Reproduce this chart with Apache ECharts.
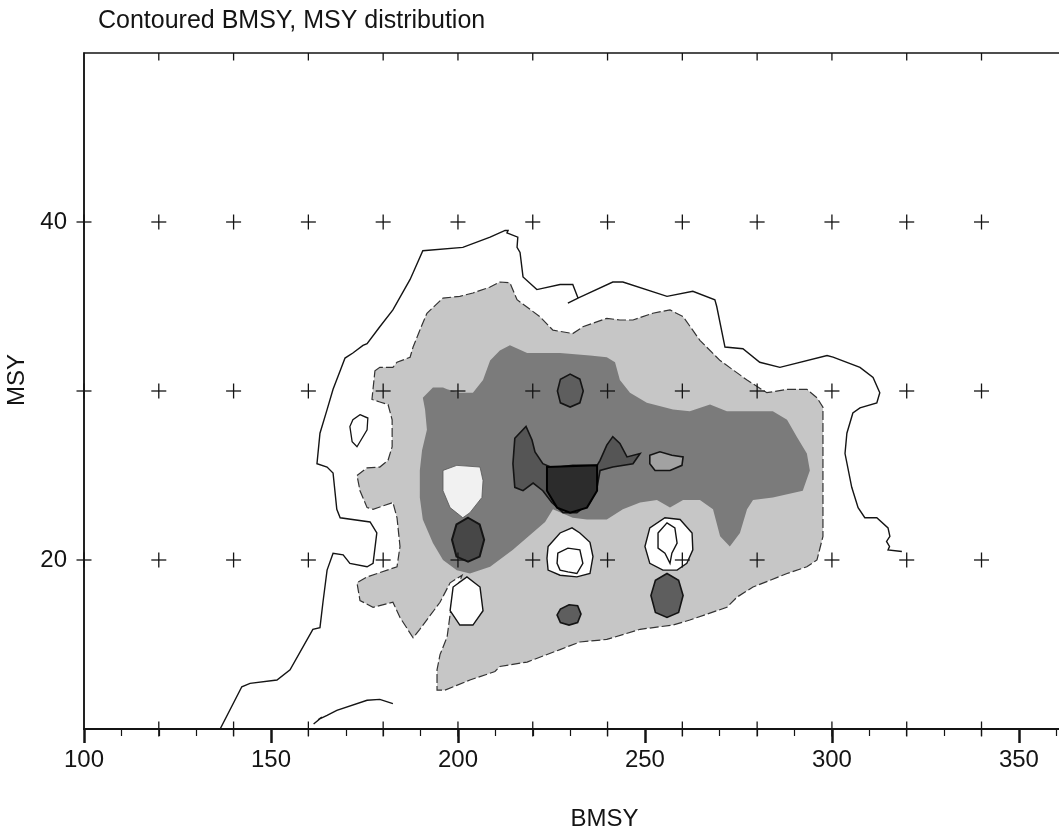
<!DOCTYPE html>
<html>
<head>
<meta charset="utf-8">
<title>Contoured BMSY, MSY distribution</title>
<script src="https://cdn.jsdelivr.net/npm/echarts@6/dist/echarts.min.js"></script>
<style>
  html, body { margin: 0; padding: 0; background: #ffffff; }
  #chart { width: 1059px; height: 837px; }
</style>
</head>
<body>
<div id="chart"></div>
<script>
// ---- text and tick values ----
const titleText = 'Contoured BMSY, MSY distribution';
const xAxisName = 'BMSY';
const yAxisName = 'MSY';
const xLabelValues = [100, 150, 200, 250, 300, 350];
const yLabelValues = [20, 40];

// grid of evaluation points drawn as "+" marks
const markBMSY = [120, 140, 160, 180, 200, 220, 240, 260, 280, 300, 320, 340];
const markMSY = [10, 20, 30, 40, 50];
const axisMarkMSY = [20, 30, 40];

// ---- lowest contour: open line (BMSY, MSY) ----
const outerLine = [
  [136.4, 10.0], [142.2, 12.5], [144.4, 12.7], [151.6, 12.9], [155.1, 13.5], [161.2, 15.9],
  [163.1, 16.0], [163.9, 17.5], [165.0, 19.4], [166.6, 20.4], [169.3, 20.3], [171.1, 19.8],
  [175.7, 19.6], [177.3, 19.8], [178.3, 21.6], [176.5, 22.25], [168.5, 22.5], [167.6, 23.0],
  [166.6, 25.15], [165.0, 25.5], [162.3, 25.7], [163.1, 27.5], [165.0, 28.9], [166.6, 30.1],
  [168.5, 31.2], [169.8, 31.95], [171.9, 32.25], [174.6, 32.7], [175.7, 32.8], [179.1, 33.8],
  [182.6, 34.8], [187.2, 36.6], [188.0, 37.0], [190.6, 38.3], [201.3, 38.5], [208.6, 39.1],
  [212.6, 39.5], [213.4, 39.5], [213.1, 39.35], [216.0, 39.1], [215.8, 38.5], [216.6, 38.2],
  [217.4, 36.75], [221.1, 36.0], [227.3, 36.3], [230.7, 36.3], [232.1, 35.5], [241.4, 36.45],
  [244.1, 36.45], [255.9, 35.6], [262.8, 35.9], [268.7, 35.4], [269.2, 35.0], [271.4, 32.6],
  [276.2, 32.5], [280.7, 31.7], [286.1, 31.4], [298.7, 32.1], [300.3, 32.0], [307.5, 31.4],
  [311.0, 30.8], [312.8, 29.9], [312.0, 29.3], [307.5, 29.0], [305.6, 28.7], [304.0, 27.5],
  [303.5, 26.3], [305.3, 24.3], [307.0, 23.1], [308.8, 22.5], [312.0, 22.5], [315.0, 21.9],
  [315.5, 21.4], [314.6, 21.1], [315.4, 20.8], [315.0, 20.6], [318.7, 20.5]
];
const outerSpur = [[232.1, 35.5], [229.4, 35.2]];
const outerArc = [
  [161.4, 10.3], [163.6, 10.7], [162.6, 10.55], [165.0, 10.8], [167.6, 11.1],
  [175.7, 11.7], [179.1, 11.75], [182.6, 11.5]
];
const leftLoop = [
  [173.8, 28.6], [175.9, 28.4], [175.7, 27.7], [173.0, 26.7], [171.7, 27.0],
  [171.1, 27.9], [171.9, 28.3]
];

// ---- second contour: light shaded region ----
const level2 = [
  [177.8, 31.2], [179.1, 31.4], [182.6, 31.4], [183.7, 31.7], [187.2, 32.0], [188.0, 32.6],
  [189.8, 33.6], [191.7, 34.6], [196.0, 35.5], [200.5, 35.6], [204.0, 35.8], [208.6, 36.15],
  [211.2, 36.45], [213.9, 36.4], [215.8, 35.4], [221.9, 34.4], [225.4, 33.6], [230.7, 33.4],
  [233.4, 33.8], [239.8, 34.3], [243.3, 34.2], [246.8, 34.2], [252.1, 34.6], [256.7, 34.8],
  [260.2, 34.4], [264.7, 33.0], [270.1, 31.8], [277.3, 30.65], [282.6, 29.9], [288.0, 30.1],
  [293.3, 30.1], [296.0, 29.6], [297.6, 29.05], [297.6, 24.1], [297.6, 21.4], [296.0, 20.0],
  [293.3, 19.6], [288.0, 19.2], [278.9, 18.4], [274.6, 17.8], [271.9, 17.2], [262.0, 16.45],
  [257.5, 16.15], [248.7, 15.9], [239.8, 15.3], [232.6, 15.15], [227.3, 14.7], [218.5, 13.96],
  [211.2, 13.7], [209.9, 13.4], [203.2, 12.9], [196.5, 12.3], [194.4, 12.3], [194.4, 13.5],
  [195.2, 14.4], [197.1, 15.45], [198.4, 17.6], [201.1, 19.1], [197.9, 18.65], [195.2, 17.5],
  [189.8, 15.9], [188.0, 15.4], [184.5, 16.6], [182.6, 17.5], [177.3, 17.2], [173.8, 17.6],
  [173.0, 18.65], [175.7, 19.0], [183.7, 19.6], [184.5, 20.8], [183.7, 22.5], [182.6, 23.4],
  [177.3, 23.0], [175.7, 23.1], [173.8, 24.1], [173.0, 25.0], [175.7, 25.45], [179.1, 25.5],
  [181.3, 25.9], [182.4, 26.7], [182.4, 28.3], [181.3, 29.2], [179.1, 29.35], [177.0, 29.5]
];

// ---- third contour: dark shaded region ----
const level3 = [
  [190.6, 29.6], [193.3, 30.2], [196.0, 30.2], [197.1, 30.1], [200.5, 29.9], [204.0, 29.9],
  [206.7, 30.65], [208.6, 31.8], [211.2, 32.4], [213.9, 32.7], [218.5, 32.25], [227.3, 32.25],
  [235.3, 32.1], [239.8, 32.0], [242.0, 31.7], [243.3, 30.65], [246.0, 29.9], [250.5, 29.3],
  [257.5, 28.9], [262.0, 28.8], [267.4, 29.2], [271.9, 28.8], [284.2, 28.8], [288.0, 28.3],
  [290.6, 27.3], [293.3, 26.3], [294.1, 25.3], [292.2, 24.1], [284.2, 23.7], [278.9, 23.55],
  [277.3, 23.0], [275.4, 21.6], [272.7, 20.8], [270.1, 21.4], [268.2, 23.0], [264.7, 23.55],
  [260.2, 23.55], [256.7, 23.1], [253.2, 23.55], [248.7, 23.4], [244.1, 23.0], [239.8, 22.4],
  [234.5, 22.4], [230.7, 22.5], [225.4, 23.0], [223.3, 22.25], [214.7, 20.6], [208.6, 19.6],
  [203.2, 19.2], [199.7, 19.4], [196.0, 20.0], [193.3, 21.0], [190.6, 22.4], [189.8, 23.7],
  [189.8, 25.3], [190.4, 26.5], [191.7, 27.7], [191.2, 28.9]
];
const heartHole = [
  [196.0, 25.3], [199.7, 25.6], [205.9, 25.5], [206.7, 24.7], [206.4, 23.7],
  [203.2, 22.8], [201.3, 22.5], [197.9, 23.1], [196.0, 24.1]
];

// ---- higher contours: dark patches ----
const patchUpper = [
  [230.0, 31.0], [232.6, 30.7], [233.5, 30.0], [232.6, 29.3],
  [230.0, 29.05], [227.4, 29.3], [226.6, 30.0], [227.4, 30.7]
];
const patchLeft = [
  [202.7, 22.5], [205.8, 22.1], [207.0, 21.2], [205.8, 20.2],
  [202.7, 19.9], [199.6, 20.2], [198.4, 21.2], [199.6, 22.1]
];
const centralPeak = [
  [215.2, 27.2], [218.2, 27.9], [219.8, 27.1], [220.6, 26.4], [222.7, 25.7], [225.4, 25.45],
  [230.7, 25.6], [237.2, 25.6], [238.0, 25.9], [239.8, 26.8], [241.4, 27.3], [243.3, 26.9],
  [245.2, 26.1], [248.7, 26.3], [246.8, 25.7], [241.4, 25.5], [238.0, 25.3], [237.2, 24.3],
  [235.3, 23.4], [231.8, 22.8], [228.1, 22.8], [225.1, 23.4], [222.7, 24.1], [220.1, 24.55],
  [217.4, 24.1], [215.2, 24.3], [214.7, 25.7]
];
const centralCore = [
  [223.8, 25.5], [237.2, 25.6], [237.2, 24.1], [234.5, 23.1],
  [230.0, 22.8], [226.5, 23.1], [223.8, 24.1]
];
const patchRight = [
  [251.3, 26.2], [254.0, 26.4], [257.2, 26.2], [260.2, 26.1],
  [259.9, 25.6], [256.7, 25.3], [252.7, 25.3], [251.3, 25.7]
];
const patchLow = [
  [255.9, 19.2], [259.0, 18.8], [260.2, 17.9], [259.0, 16.9],
  [255.9, 16.6], [252.8, 16.9], [251.6, 17.9], [252.8, 18.8]
];
const patchSmall = [
  [229.7, 17.35], [232.0, 17.3], [232.9, 16.8], [232.0, 16.3],
  [229.7, 16.15], [227.4, 16.3], [226.5, 16.75], [227.4, 17.1]
];

// ---- low areas inside the shaded regions ----
const holeMidOuter = [
  [224.1, 20.8], [227.3, 21.6], [230.5, 21.9], [232.6, 21.6], [235.3, 21.05], [236.1, 20.2],
  [235.3, 19.2], [231.8, 19.0], [227.3, 19.1], [224.1, 19.4], [223.8, 20.1]
];
const holeMidInner = [
  [226.7, 20.4], [229.4, 20.7], [232.6, 20.6], [233.4, 19.8],
  [231.8, 19.2], [229.4, 19.3], [227.3, 19.4], [226.5, 19.8]
];
const holeRightOuter = [
  [250.0, 20.8], [251.3, 21.9], [255.35, 22.5], [259.4, 22.4], [262.6, 21.6],
  [262.8, 20.6], [261.2, 19.8], [258.6, 19.4], [254.8, 19.4], [251.3, 19.8]
];
const holeRightInner = [
  [253.5, 21.6], [255.9, 22.2], [258.0, 21.9], [258.6, 21.0],
  [257.2, 20.4], [256.7, 19.8], [255.35, 20.4], [253.5, 20.7]
];
const holeSaddle = [
  [197.9, 17.0], [198.7, 18.4], [202.4, 19.0], [205.9, 18.4],
  [206.7, 17.0], [204.0, 16.15], [200.5, 16.15]
];

// ---- colours ----
const INK = '#141414';
const LIGHT = '#c6c6c6';
const DARK = '#7b7b7b';
const DARKER = '#555555';
const DARKEST = '#2c2c2c';

const FONT = '"Liberation Sans", Arial, Helvetica, sans-serif';

// one custom series per group of shapes, projected through the cartesian axes
function shapeSeries(rings, kind, style, z, clip) {
  return {
    type: 'custom',
    coordinateSystem: 'cartesian2d',
    silent: true,
    clip: clip !== false,
    z: z,
    data: rings.map(r => r[0]),
    renderItem: function (params, api) {
      const pts = rings[params.dataIndex].map(p => api.coord(p));
      return {
        type: kind,
        shape: { points: pts, smooth: 0 },
        style: Object.assign({}, style)
      };
    }
  };
}

const markPoints = [];
markMSY.forEach(y => markBMSY.forEach(x => markPoints.push([x, y])));
axisMarkMSY.forEach(y => markPoints.push([100, y]));
const topMSY = markMSY[markMSY.length - 1];

const chart = echarts.init(document.getElementById('chart'), null, { renderer: 'canvas' });

chart.setOption({
  animation: false,
  backgroundColor: '#ffffff',
  title: {
    text: titleText,
    left: 93,
    top: 4,
    textStyle: { fontFamily: FONT, fontSize: 25, fontWeight: 'normal', color: INK }
  },
  grid: {
    left: 84, top: 53, right: -16, bottom: 108,
    containLabel: false,
    outerBoundsMode: 'none',
    show: true, borderColor: INK, borderWidth: 1.5, backgroundColor: 'transparent'
  },
  xAxis: {
    type: 'value',
    min: 100, max: 365, interval: 50,
    name: xAxisName,
    nameLocation: 'middle',
    nameGap: 78,
    nameTextStyle: { fontFamily: FONT, fontSize: 24, color: INK, padding: [0, 0, 0, 50] },
    axisLine: { show: true, onZero: false, lineStyle: { color: INK, width: 2 } },
    axisTick: { show: true, inside: false, length: 14, lineStyle: { color: INK, width: 2.5 } },
    minorTick: { show: true, splitNumber: 5, length: 7, lineStyle: { color: INK, width: 1.2 } },
    axisLabel: {
      fontFamily: FONT, fontSize: 24, color: INK, margin: 19,
      showMaxLabel: false,
      formatter: v => (xLabelValues.indexOf(v) >= 0 ? String(v) : '')
    },
    splitLine: { show: false }
  },
  yAxis: {
    type: 'value',
    min: 10, max: 50, interval: 10,
    name: yAxisName,
    nameLocation: 'middle',
    nameGap: 47,
    nameRotate: 90,
    nameTextStyle: { fontFamily: FONT, fontSize: 24, color: INK, padding: [0, 0, 0, 22] },
    axisLine: { show: true, onZero: false, lineStyle: { color: INK, width: 1.5 } },
    axisTick: { show: false },
    axisLabel: {
      fontFamily: FONT, fontSize: 24, color: INK, margin: 17,
      formatter: v => (yLabelValues.indexOf(v) >= 0 ? String(v) : '')
    },
    splitLine: { show: false }
  },
  series: [
    // shaded regions
    shapeSeries([level2], 'polygon', { fill: LIGHT, stroke: '#333333', lineWidth: 1.2, lineDash: [9, 3] }, 2),
    shapeSeries([level3], 'polygon', { fill: DARK, stroke: null }, 3),
    shapeSeries([heartHole], 'polygon', { fill: '#f1f1f1', stroke: '#555555', lineWidth: 0.8 }, 4),
    shapeSeries([patchUpper, patchLow, patchSmall], 'polygon', { fill: '#5e5e5e', stroke: INK, lineWidth: 1.6 }, 5),
    shapeSeries([patchLeft], 'polygon', { fill: '#474747', stroke: INK, lineWidth: 2 }, 5),
    shapeSeries([patchRight], 'polygon', { fill: '#a2a2a2', stroke: INK, lineWidth: 1.6 }, 5),
    shapeSeries([centralPeak], 'polygon', { fill: DARKER, stroke: INK, lineWidth: 1.6 }, 6),
    shapeSeries([centralCore], 'polygon', { fill: DARKEST, stroke: '#000000', lineWidth: 2 }, 7),
    // low areas with their contour rings
    shapeSeries([holeMidOuter, holeRightOuter, holeSaddle], 'polygon', { fill: '#ffffff', stroke: INK, lineWidth: 1.4 }, 8),
    shapeSeries([holeMidInner, holeRightInner], 'polygon', { fill: '#ffffff', stroke: INK, lineWidth: 1.4 }, 9),
    // lowest contour lines
    shapeSeries([leftLoop], 'polygon', { fill: '#ffffff', stroke: INK, lineWidth: 1.3 }, 8),
    shapeSeries([outerLine, outerSpur, outerArc], 'polyline', { fill: null, stroke: INK, lineWidth: 1.4 }, 8),
    // "+" marks at the evaluation grid (only the inward half on the top border)
    {
      type: 'custom',
      coordinateSystem: 'cartesian2d',
      silent: true,
      clip: false,
      z: 12,
      data: markPoints,
      renderItem: function (params, api) {
        const c = api.coord([api.value(0), api.value(1)]);
        const h = 7.5;
        const st = { stroke: INK, lineWidth: 1.3 };
        const onTop = api.value(1) === topMSY;
        return {
          type: 'group',
          children: [
            { type: 'line', shape: { x1: c[0] - (onTop ? 0 : h), y1: c[1], x2: c[0] + (onTop ? 0 : h), y2: c[1] }, style: st, invisible: onTop },
            { type: 'line', shape: { x1: c[0], y1: c[1] - (onTop ? 0 : h), x2: c[0], y2: c[1] + h }, style: st }
          ]
        };
      }
    }
  ]
});
</script>
</body>
</html>
